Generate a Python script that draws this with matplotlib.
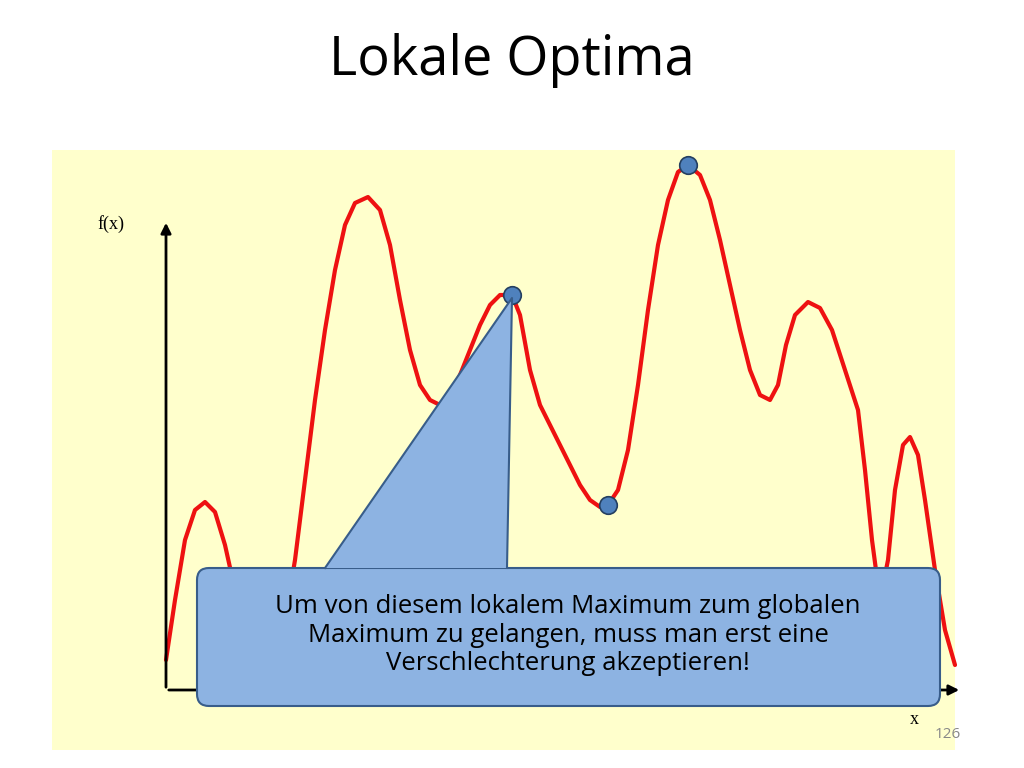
import matplotlib
matplotlib.use("Agg")
import matplotlib.pyplot as plt
from matplotlib.patches import FancyBboxPatch, Polygon

# curve samples (x, f(x)) in chart units
curve_x = [0,9,19,29,39,49,59,69,79,89,99,109,119,129,139,149,159,169,179,189,202,214,224,234,244,254,264,274,284,294,304,314,324,334,346,354,364,374,384,394,404,414,424,434,442,452,462,472,482,492,502,512,522,534,544,554,564,574,584,594,604,612,620,629,642,654,666,679,692,699,706,714,722,729,737,744,752,759,769,779,789]
curve_y = [30,90,150,180,188,178,145,100,50,20,10,25,70,130,210,290,360,420,465,487,493,480,445,390,340,305,290,285,295,315,340,365,385,395,395,375,320,285,265,245,225,205,190,183,185,200,240,305,380,445,490,518,525,515,490,450,405,360,320,295,290,305,345,375,388,382,360,320,280,220,150,90,130,200,245,253,235,190,120,60,25]
# marked points
mark_x = [346, 442, 522]
mark_y = [395, 185, 525]

title = "Lokale Optima"
callout = "Um von diesem lokalem Maximum zum globalen\nMaximum zu gelangen, muss man erst eine\nVerschlechterung akzeptieren!"

fig = plt.figure(figsize=(10.24, 7.68), dpi=100)
fig.patch.set_facecolor("white")
bg = fig.add_axes([52/1024, (768-750)/768, 903/1024, 600/768], zorder=-1)
bg.set_facecolor("#FFFFCC")
bg.set_xticks([]); bg.set_yticks([])
for s in bg.spines.values():
    s.set_visible(False)
fig.text(0.5, 1-60/768, title, ha="center", va="center", fontsize=39, family="Open Sans")

ax = fig.add_axes([166/1024, (768-690)/768, 794/1024, 540/768], zorder=1)
ax.set_xlim(0, 794)
ax.set_ylim(0, 540)
ax.axis("off")

ax.annotate("", xy=(0, 470), xytext=(0, 0), annotation_clip=False,
            arrowprops=dict(arrowstyle="-|>", color="black", lw=2, mutation_scale=15))
ax.annotate("", xy=(796, 0), xytext=(0, 0), annotation_clip=False,
            arrowprops=dict(arrowstyle="-|>", color="black", lw=2, mutation_scale=15))
ax.text(-55, 466, "f(x)", family="Liberation Serif", fontsize=13, ha="center", va="center")
ax.text(748, -30, "x", family="Liberation Serif", fontsize=13, ha="center", va="center")
ax.text(782, -45, "126", family="Open Sans", fontsize=11, color="#888888", ha="center", va="center")

ax.plot(curve_x, curve_y, color="#EE1111", lw=3, clip_on=False, zorder=2,
        solid_joinstyle="round", solid_capstyle="round")
ax.scatter(mark_x, mark_y, s=160, facecolor="#4F81BD", edgecolor="#243F60", lw=1.2, zorder=3, clip_on=False)

fill, edge = "#8DB3E2", "#385D8A"
box = FancyBboxPatch((31+12, -16+12), 743-24, 138-24, boxstyle="round,pad=12",
                     facecolor=fill, edgecolor=edge, lw=1.5, zorder=5, clip_on=False)
ax.add_patch(box)
tri = [(159, 122), (346, 392), (341, 122)]
ax.add_patch(Polygon(tri, closed=True, facecolor=fill, edgecolor="none", zorder=6, clip_on=False))
ax.plot([159, 346, 341], [122, 392, 122], color=edge, lw=1.5, zorder=7, clip_on=False)
ax.text(402, 55, callout, ha="center", va="center", fontsize=18.5, family="Open Sans",
        linespacing=1.2, zorder=8)

fig.savefig("out.png", dpi=100)
